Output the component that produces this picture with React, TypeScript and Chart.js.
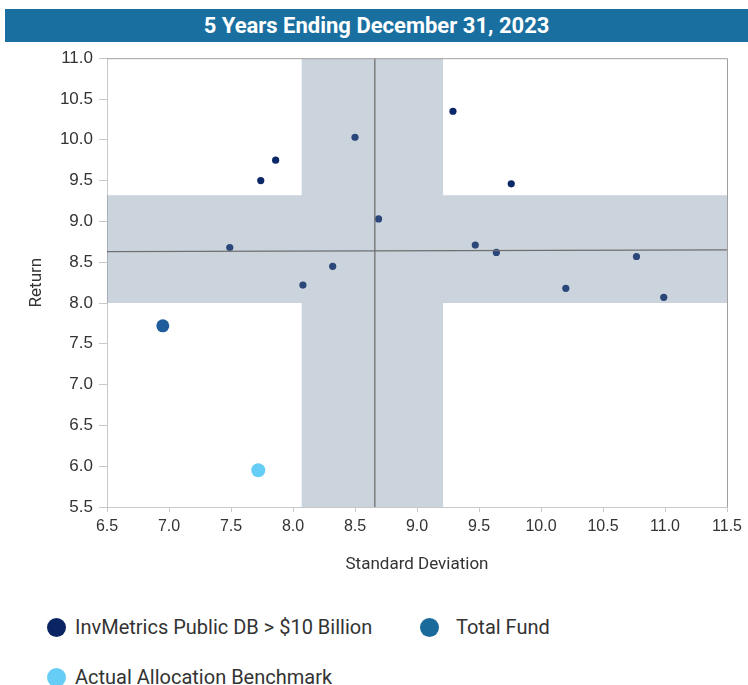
import React, { useEffect, useRef } from "react";
import { Chart, registerables } from "chart.js";

Chart.register(...registerables);

const TITLE = "5 Years Ending December 31, 2023";
const X_TITLE = "Standard Deviation";
const Y_TITLE = "Return";

const PEER_STDDEV = [9.29, 8.5, 7.86, 7.74, 8.69, 7.49, 9.47, 8.32, 8.08, 9.76, 9.64, 10.2, 10.77, 10.99];
const PEER_RETURN = [10.35, 10.03, 9.75, 9.5, 9.03, 8.68, 8.71, 8.45, 8.22, 9.46, 8.62, 8.18, 8.57, 8.07];

const FUND_STDDEV = [6.95];
const FUND_RETURN = [7.72];

const BENCH_STDDEV = [7.72];
const BENCH_RETURN = [5.95];

// interquartile bands and medians of the peer group
const BAND_STDDEV = [8.07, 9.21];
const BAND_RETURN = [8.0, 9.32];
const MEDIAN_STDDEV = 8.66;
const MEDIAN_RETURN = [8.63, 8.65];

const X_MIN = 6.5, X_MAX = 11.5, X_STEP = 0.5;
const Y_MIN = 5.5, Y_MAX = 11.0, Y_STEP = 0.5;

const LEGEND = [
  { label: "InvMetrics Public DB > $10 Billion", color: "#0b2463" },
  { label: "Total Fund", color: "#1b6a9c" },
  { label: "Actual Allocation Benchmark", color: "#66cdf6" },
];

const toPts = (xs: number[], ys: number[]) => xs.map((x, i) => ({ x, y: ys[i] }));

const bandPlugin = {
  id: "bands",
  afterDatasetsDraw(chart: any) {
    const { ctx, chartArea: a, scales } = chart;
    const xs = scales.x, ys = scales.y;
    ctx.save();
    ctx.beginPath();
    const bx0 = xs.getPixelForValue(BAND_STDDEV[0]);
    const bx1 = xs.getPixelForValue(BAND_STDDEV[1]);
    const by0 = ys.getPixelForValue(BAND_RETURN[1]);
    const by1 = ys.getPixelForValue(BAND_RETURN[0]);
    ctx.rect(bx0, a.top, bx1 - bx0, a.bottom - a.top);
    ctx.rect(a.left, by0, a.right - a.left, by1 - by0);
    ctx.fillStyle = "rgba(106,129,155,0.35)";
    ctx.fill("nonzero");
    // medians
    ctx.strokeStyle = "#707070";
    ctx.lineWidth = 1.3;
    ctx.beginPath();
    const mx = xs.getPixelForValue(MEDIAN_STDDEV);
    ctx.moveTo(mx, a.top);
    ctx.lineTo(mx, a.bottom);
    ctx.moveTo(a.left, ys.getPixelForValue(MEDIAN_RETURN[0]));
    ctx.lineTo(a.right, ys.getPixelForValue(MEDIAN_RETURN[1]));
    ctx.stroke();
    // frame
    ctx.strokeStyle = "#a0a0a0";
    ctx.lineWidth = 1;
    ctx.beginPath();
    ctx.moveTo(a.left, a.top + 0.5);
    ctx.lineTo(a.right + 0.5, a.top + 0.5);
    ctx.lineTo(a.right + 0.5, a.bottom);
    ctx.stroke();
    ctx.restore();
  },
};

function ScatterChart() {
  const ref = useRef<HTMLCanvasElement | null>(null);
  useEffect(() => {
    if (!ref.current) return;
    const fam = "Arial, 'Liberation Sans', sans-serif";
    const chart = new Chart(ref.current, {
      type: "scatter",
      data: {
        datasets: [
          {
            label: LEGEND[0].label,
            data: toPts(PEER_STDDEV, PEER_RETURN),
            backgroundColor: "#0a2868",
            borderWidth: 0,
            pointRadius: 3.6,
          },
          {
            label: LEGEND[1].label,
            data: toPts(FUND_STDDEV, FUND_RETURN),
            backgroundColor: "#1e5c9c",
            borderWidth: 0,
            pointRadius: 6.5,
          },
          {
            label: LEGEND[2].label,
            data: toPts(BENCH_STDDEV, BENCH_RETURN),
            backgroundColor: "#66cdf6",
            borderWidth: 0,
            pointRadius: 7,
          },
        ],
      },
      options: {
        animation: false,
        responsive: false,
        maintainAspectRatio: false,
        layout: { padding: { top: 16, right: 21, left: 0, bottom: 0 } },
        plugins: { legend: { display: false }, tooltip: { enabled: false } },
        scales: {
          x: {
            type: "linear",
            min: X_MIN,
            max: X_MAX,
            ticks: {
              stepSize: X_STEP,
              color: "#333",
              font: { family: fam, size: 16 },
              padding: 5,
              callback: (v: any) => Number(v).toFixed(1),
            },
            grid: { display: true, drawOnChartArea: false, drawTicks: true, tickLength: 5, color: "#c8c8c8" },
            border: { display: true, color: "#c8c8c8" },
            title: {
              display: true,
              text: X_TITLE,
              color: "#333",
              font: { family: "Roboto, Arial, sans-serif", size: 17 },
              padding: { top: 4, bottom: 8 },
            },
            afterFit: (s: any) => { s.height = 76; },
          },
          y: {
            type: "linear",
            min: Y_MIN,
            max: Y_MAX,
            ticks: {
              stepSize: Y_STEP,
              color: "#333",
              font: { family: fam, size: 17 },
              padding: 6,
              callback: (v: any) => Number(v).toFixed(1),
            },
            grid: { display: true, drawOnChartArea: false, drawTicks: true, tickLength: 8, color: "#c8c8c8" },
            border: { display: true, color: "#c8c8c8" },
            title: {
              display: true,
              text: Y_TITLE,
              color: "#333",
              font: { family: "Roboto, Arial, sans-serif", size: 17 },
              padding: { top: 27, bottom: 0 },
            },
            afterFit: (s: any) => { s.width = 107; },
          },
        },
      },
      plugins: [bandPlugin],
    } as any);
    return () => chart.destroy();
  }, []);
  return <canvas ref={ref} width={748} height={541} style={{ position: "absolute", left: 0, top: 42, width: 748, height: 541 }} />;
}

export default function App() {
  const legendText: React.CSSProperties = {
    fontFamily: "Roboto, Arial, sans-serif",
    fontSize: 20,
    color: "#333",
    whiteSpace: "nowrap",
  };
  const dot = (c: string): React.CSSProperties => ({
    width: 19, height: 19, borderRadius: "50%", background: c, display: "inline-block", flex: "none",
  });
  return (
    <div style={{ position: "absolute", left: 0, top: 0, width: 748, height: 685, background: "#fff", overflow: "hidden" }}>
      <div
        style={{
          position: "absolute", left: 5, top: 9, width: 743, height: 33, background: "#196f9f",
          color: "#fff", display: "flex", alignItems: "center", justifyContent: "center",
          fontFamily: "Roboto, Arial, sans-serif", fontWeight: 700, fontSize: 22,
        }}
      >
        <span style={{ display: "inline-block", marginLeft: 0 }}>{TITLE}</span>
      </div>
      <ScatterChart />
      <div style={{ position: "absolute", left: 47, top: 615, height: 24, display: "flex", alignItems: "center" }}>
        <span style={dot(LEGEND[0].color)} />
        <span style={{ ...legendText, marginLeft: 9 }}>{LEGEND[0].label}</span>
      </div>
      <div style={{ position: "absolute", left: 420, top: 615, height: 24, display: "flex", alignItems: "center" }}>
        <span style={dot(LEGEND[1].color)} />
        <span style={{ ...legendText, marginLeft: 17 }}>{LEGEND[1].label}</span>
      </div>
      <div style={{ position: "absolute", left: 47, top: 665, height: 24, display: "flex", alignItems: "center" }}>
        <span style={dot(LEGEND[2].color)} />
        <span style={{ ...legendText, marginLeft: 9 }}>{LEGEND[2].label}</span>
      </div>
    </div>
  );
}
